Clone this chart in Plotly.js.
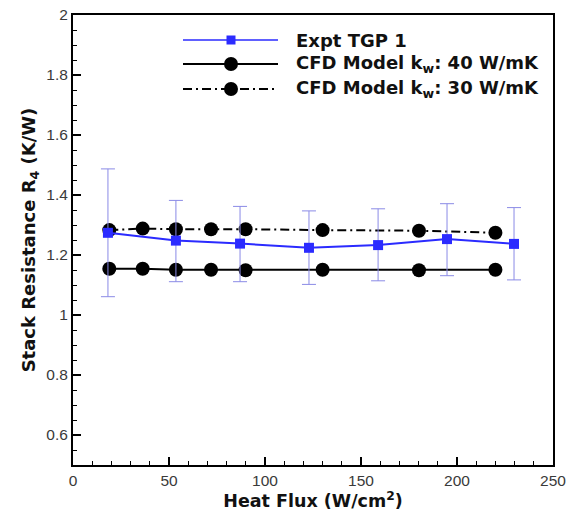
<!DOCTYPE html>
<html><head><meta charset="utf-8">
<script src="https://cdn.plot.ly/plotly-3.0.1.min.js"></script>
<style>html,body{margin:0;padding:0;background:#fff;}</style>
</head><body><div id="chart" style="width:569px;height:518px;"></div>
<script>
// Experimental data (Expt TGP 1)
const exptX = [18.2, 53.6, 87.0, 122.9, 158.9, 194.8, 229.7];
const exptY = [1.274, 1.248, 1.238, 1.224, 1.233, 1.253, 1.237];
const exptHi = [1.487, 1.382, 1.362, 1.347, 1.354, 1.371, 1.358];
const exptLo = [1.061, 1.111, 1.111, 1.102, 1.114, 1.131, 1.117];
// CFD models
const cfdX = [18.9, 36.3, 53.6, 71.9, 89.9, 130.0, 180.2, 220.0];
const cfd40Y = [1.154, 1.154, 1.151, 1.151, 1.149, 1.151, 1.149, 1.151];
const cfd30Y = [1.283, 1.288, 1.286, 1.286, 1.286, 1.283, 1.281, 1.274];
const legendNames = ["Expt TGP 1", "CFD Model k<sub>w</sub>: 40 W/mK", "CFD Model k<sub>w</sub>: 30 W/mK"];

const blue = '#2b2bff';
const errPlus = exptHi.map((h,i)=>h-exptY[i]);
const errMinus = exptLo.map((l,i)=>exptY[i]-l);

const traces = [
  {x: cfdX, y: cfd40Y, mode:'lines+markers', name: legendNames[1],
   line:{color:'#000', width:2}, marker:{symbol:'circle', size:14, color:'#000'}},
  {x: cfdX, y: cfd30Y, mode:'lines+markers', name: legendNames[2],
   line:{color:'#000', width:2, dash:'9px,4px,2px,4px'}, marker:{symbol:'circle', size:14, color:'#000'}},
  {x: exptX, y: exptY, mode:'lines+markers', name: legendNames[0],
   line:{color:blue, width:2}, marker:{symbol:'square', size:10, color:blue},
   error_y:{type:'data', symmetric:false, array:errPlus, arrayminus:errMinus,
            color:'#8a8ae6', thickness:1, width:7}}
];

// custom legend (paper coords)
const L = 73, W = 480, H = 450;
const px = v => (v - L)/W, py = v => (465 - v)/H;
const rows = [
  {y:40, color:blue, dash:'solid', sym:'square'},
  {y:64, color:'#000', dash:'solid', sym:'circle'},
  {y:89, color:'#000', dash:'dashdot', sym:'circle'}
];
const shapes = [];
const annotations = [];
rows.forEach((r,i)=>{
  shapes.push({type:'line', xref:'paper', yref:'paper', x0:px(183), x1:px(278), y0:py(r.y), y1:py(r.y),
    line:{color:r.color, width: i===0?1.5:2, dash: r.dash==='dashdot' ? '9px,4px,2px,4px' : 'solid'}});
  const s = r.sym==='square' ? 4.5 : 7;
  shapes.push({type: r.sym==='square'?'rect':'circle', xref:'paper', yref:'paper',
    x0:px(231-s), x1:px(231+s), y0:py(r.y+s), y1:py(r.y-s),
    fillcolor:r.color, line:{color:r.color, width:0}});
  annotations.push({xref:'paper', yref:'paper', x:px(294), y:py(r.y), xanchor:'left', yanchor:'middle',
    text:legendNames[i], showarrow:false, font:{family:'DejaVu Sans', size:18, color:'#111', weight:'bold'}});
});

const layout = {
  width:569, height:518,
  margin:{l:73, r:16, t:15, b:53},
  paper_bgcolor:'#fff', plot_bgcolor:'#fff',
  showlegend:false,
  font:{family:'Liberation Sans, Arial', size:15, color:'#333'},
  xaxis:{range:[0,250], tick0:0, dtick:50, ticks:'inside', ticklen:8, tickwidth:1.5, tickcolor:'#000',
    minor:{dtick:10, ticks:'inside', ticklen:4, tickcolor:'#000', tickwidth:1},
    showline:true, linecolor:'#000', linewidth:2, mirror:true, showgrid:false, zeroline:false,
    tickfont:{family:'Liberation Sans, Arial', size:15.5, color:'#3a3a3a'},
    title:{text:'Heat Flux (W/cm<sup>2</sup>)', font:{family:'DejaVu Sans', size:17.5, color:'#111', weight:'bold'}, standoff:4}},
  yaxis:{range:[0.5,2], tick0:0.6, dtick:0.2, ticks:'inside', ticklen:8, tickwidth:1.5, tickcolor:'#000',
    minor:{dtick:0.05, ticks:'inside', ticklen:4, tickcolor:'#000', tickwidth:1},
    showline:true, linecolor:'#000', linewidth:2, mirror:true, showgrid:false, zeroline:false,
    tickfont:{family:'Liberation Sans, Arial', size:15.5, color:'#3a3a3a'},
    title:{text:'Stack Resistance R<sub>4</sub> (K/W)', font:{family:'DejaVu Sans', size:18, color:'#111', weight:'bold'}, standoff:6}},
  shapes: shapes,
  annotations: annotations
};
Plotly.newPlot('chart', traces, layout, {displayModeBar:false, staticPlot:true});
</script></body></html>
